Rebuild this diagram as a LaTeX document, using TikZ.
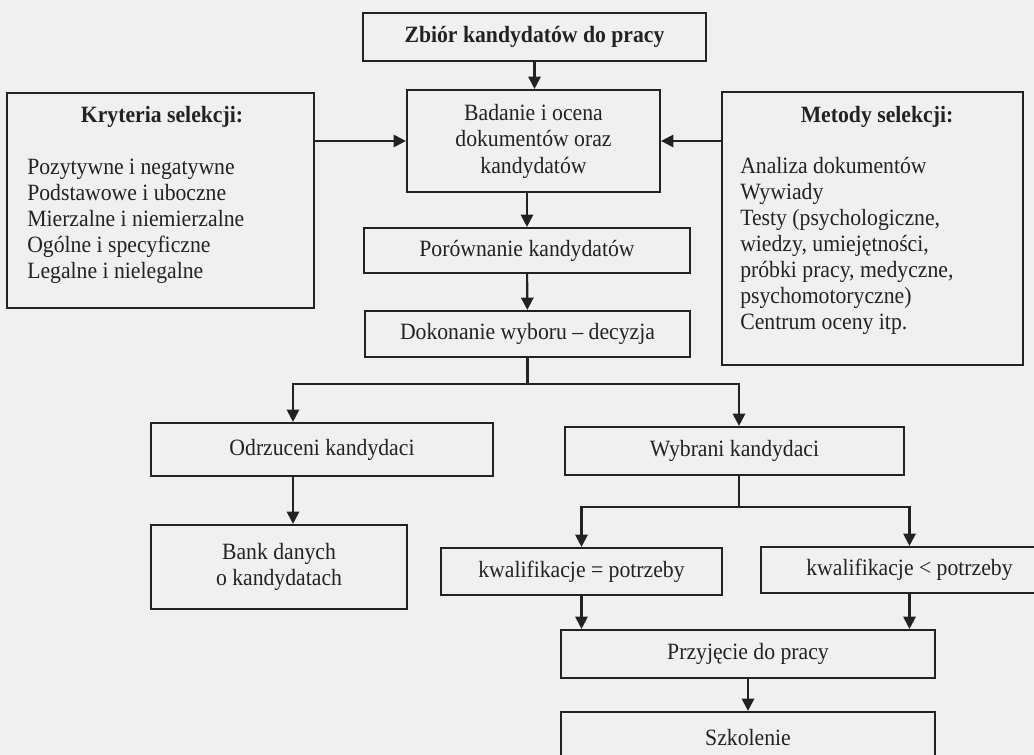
\documentclass[tikz,border=0pt]{standalone}
\usepackage{fontspec}
\setmainfont{Liberation Serif}[FakeStretch=0.93]
\usetikzlibrary{arrows.meta, positioning}
\usepackage{xcolor}
\definecolor{paper}{RGB}{240,240,240}
\definecolor{ink}{RGB}{34,34,34}

\begin{document}
\begin{tikzpicture}[x=0.025cm, y=-0.025cm, >={Triangle[length=3.1mm, width=3.1mm]},
  box/.style={rectangle, draw=ink, line width=1.5pt, align=center, text=ink, inner sep=2pt, font=\fontsize{16.6}{18.8}\selectfont},
  txt/.style={inner sep=0pt, text=ink, font=\fontsize{16.6}{18.5}\selectfont},
  hdr/.style={inner sep=0pt, text=ink, font=\fontsize{16.6}{18.5}\selectfont\bfseries},
  arr/.style={->, draw=ink, line width=1.5pt}]
  % Page
  \fill[paper] (0,0) rectangle (1034,755);
  \useasboundingbox (0,0) rectangle (1034,755);
  \clip (0,0) rectangle (1034,755);
  % Main column
  \node[box, font=\fontsize{16.6}{18.8}\selectfont\bfseries, minimum width=8.575cm, minimum height=1.2cm] (zbior) at (534.5,37) {Zbiór kandydatów do pracy};
  \node[box, minimum width=6.325cm, minimum height=2.55cm] (badanie) at (533.5,141) {Badanie i ocena\\dokumentów oraz\\kandydatów};
  \node[box, minimum width=8.15cm, minimum height=1.125cm] (porown) at (527,250.5) {Porównanie kandydatów};
  \node[box, minimum width=8.125cm, minimum height=1.15cm] (decyzja) at (527.5,334) {Dokonanie wyboru – decyzja};
  % Criteria
  \node[box, minimum width=7.675cm, minimum height=5.375cm] (kryteria) at (160.5,200.5) {};
  \node[hdr] (krytHdr) at (162,117) {Kryteria selekcji:};
  \node[txt, anchor=west, align=left] (krytList) at (27,221.5) {Pozytywne i negatywne\\Podstawowe i uboczne\\Mierzalne i niemierzalne\\Ogólne i specyficzne\\Legalne i nielegalne};
  % Methods
  \node[box, minimum width=7.525cm, minimum height=6.825cm] (metody) at (872.5,228.5) {};
  \node[hdr] (metHdr) at (877,117) {Metody selekcji:};
  \node[txt, anchor=west, align=left] (metList) at (740,246) {Analiza dokumentów\\Wywiady\\Testy (psychologiczne,\\wiedzy, umiejętności,\\próbki pracy, medyczne,\\psychomotoryczne)\\Centrum oceny itp.};
  % Outcomes
  \node[box, minimum width=8.55cm, minimum height=1.325cm] (odrz) at (322,449.5) {Odrzuceni kandydaci};
  \node[box, minimum width=6.4cm, minimum height=2.1cm] (bank) at (279,567) {Bank danych\\o kandydatach};
  \node[box, minimum width=8.475cm, minimum height=1.2cm] (wybr) at (734.5,451) {Wybrani kandydaci};
  \node[box, minimum width=7.025cm, minimum height=1.175cm] (kwrow) at (581.5,571.5) {kwalifikacje = potrzeby};
  \node[box, minimum width=7.425cm, minimum height=1.15cm] (kwmn) at (909.5,570) {kwalifikacje < potrzeby};
  \node[box, minimum width=9.35cm, minimum height=1.2cm] (przyj) at (748,654) {Przyjęcie do pracy};
  \node[box, minimum width=9.35cm, minimum height=1.3cm] (szkol) at (748,738) {Szkolenie};
  % Branch points
  \coordinate (brL) at (293,384);
  \coordinate (brR) at (739,384);
  \coordinate (brW) at (739,507);
  % Connections
  \draw[arr] (zbior.south) -- (zbior.south |- badanie.north);
  \draw[arr] (kryteria.east |- badanie.west) -- (badanie.west);
  \draw[arr] (metody.west |- badanie.east) -- (badanie.east);
  \draw[arr] (porown.north |- badanie.south) -- (porown.north);
  \draw[arr] (porown) -- (decyzja);
  \draw[arr] (decyzja.south) -- (decyzja.south |- brL) -- (brL) -- (brL |- odrz.north);
  \draw[arr] (decyzja.south |- brR) -- (brR) -- (brR |- wybr.north);
  \draw[arr] (brL |- odrz.south) -- (brL |- bank.north);
  \draw[ink, line width=1.5pt] (brR |- wybr.south) -- (brW);
  \draw[arr] (brW) -| (kwrow.north);
  \draw[arr] (brW) -| (kwmn.north);
  \draw[arr] (kwrow.south) -- (kwrow.south |- przyj.north);
  \draw[arr] (kwmn.south) -- (kwmn.south |- przyj.north);
  \draw[arr] (przyj) -- (szkol);
\end{tikzpicture}
\end{document}
